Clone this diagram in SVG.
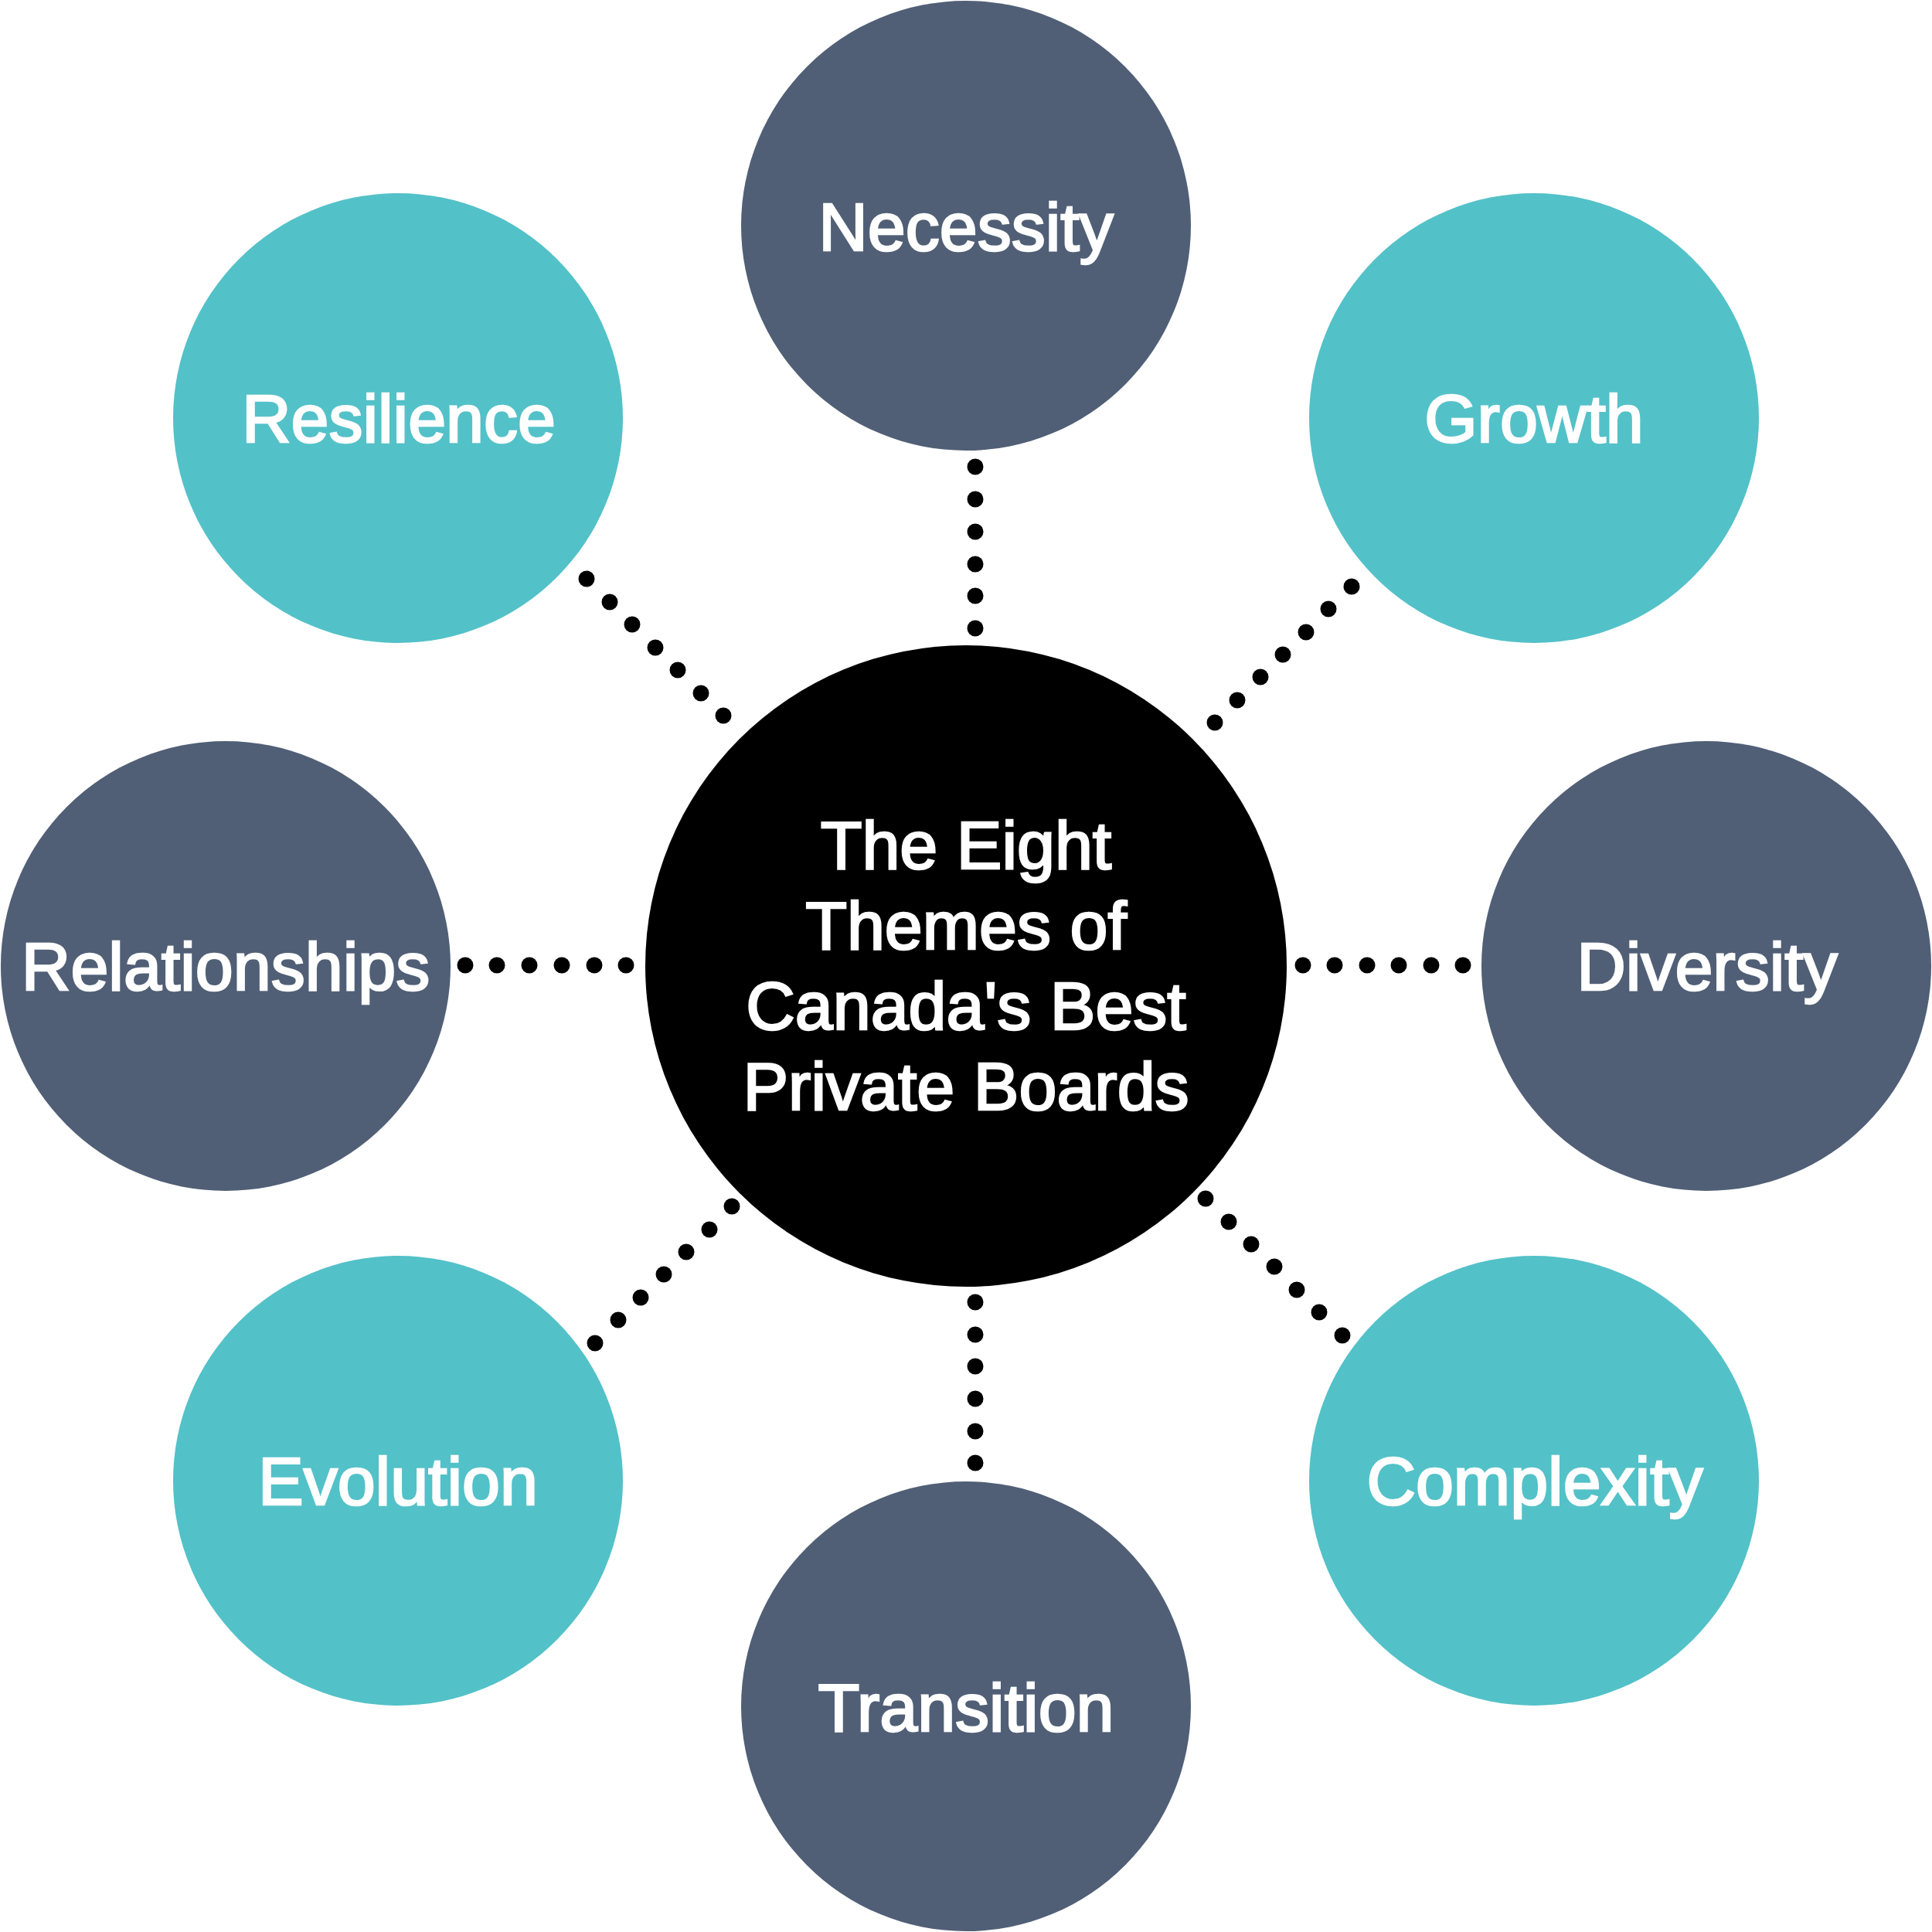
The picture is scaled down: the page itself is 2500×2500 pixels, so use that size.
<svg xmlns="http://www.w3.org/2000/svg" width="2500" height="2500" viewBox="0 0 2500 2500">
<style>
.slate{fill:#505F76}
.teal{fill:#53C1C8}
.hub{fill:#000}
.lbl{font-family:"Liberation Sans",Arial,Helvetica,sans-serif;font-size:88px;fill:#fff;stroke:#fff;stroke-width:2.6;text-anchor:middle}
.dot{fill:#000}
</style>
<rect width="2500" height="2500" fill="#fff"/>
<g id="connectors">
<g id="c-necessity"><circle class="dot" cx="1262" cy="604" r="10.5"/><circle class="dot" cx="1262" cy="646" r="10.5"/><circle class="dot" cx="1262" cy="688" r="10.5"/><circle class="dot" cx="1262" cy="730" r="10.5"/><circle class="dot" cx="1262" cy="771" r="10.5"/><circle class="dot" cx="1262" cy="813" r="10.5"/></g>
<g id="c-transition"><circle class="dot" cx="1262" cy="1685" r="10.5"/><circle class="dot" cx="1262" cy="1727" r="10.5"/><circle class="dot" cx="1262" cy="1768" r="10.5"/><circle class="dot" cx="1262" cy="1810" r="10.5"/><circle class="dot" cx="1262" cy="1852" r="10.5"/><circle class="dot" cx="1262" cy="1893" r="10.5"/></g>
<g id="c-relationships"><circle class="dot" cx="602" cy="1249" r="10.5"/><circle class="dot" cx="643" cy="1249" r="10.5"/><circle class="dot" cx="685" cy="1249" r="10.5"/><circle class="dot" cx="727" cy="1249" r="10.5"/><circle class="dot" cx="769" cy="1249" r="10.5"/><circle class="dot" cx="810" cy="1249" r="10.5"/></g>
<g id="c-diversity"><circle class="dot" cx="1686" cy="1249" r="10.5"/><circle class="dot" cx="1727" cy="1249" r="10.5"/><circle class="dot" cx="1769" cy="1249" r="10.5"/><circle class="dot" cx="1810" cy="1249" r="10.5"/><circle class="dot" cx="1852" cy="1249" r="10.5"/><circle class="dot" cx="1893" cy="1249" r="10.5"/></g>
<g id="c-resilience"><circle class="dot" cx="759" cy="749" r="10.5"/><circle class="dot" cx="789" cy="779" r="10.5"/><circle class="dot" cx="818" cy="808" r="10.5"/><circle class="dot" cx="848" cy="838" r="10.5"/><circle class="dot" cx="877" cy="867" r="10.5"/><circle class="dot" cx="907" cy="897" r="10.5"/><circle class="dot" cx="936" cy="926" r="10.5"/></g>
<g id="c-growth"><circle class="dot" cx="1749" cy="759" r="10.5"/><circle class="dot" cx="1719" cy="788" r="10.5"/><circle class="dot" cx="1690" cy="818" r="10.5"/><circle class="dot" cx="1660" cy="847" r="10.5"/><circle class="dot" cx="1631" cy="876" r="10.5"/><circle class="dot" cx="1601" cy="906" r="10.5"/><circle class="dot" cx="1572" cy="935" r="10.5"/></g>
<g id="c-evolution"><circle class="dot" cx="947" cy="1561" r="10.5"/><circle class="dot" cx="918" cy="1591" r="10.5"/><circle class="dot" cx="888" cy="1620" r="10.5"/><circle class="dot" cx="859" cy="1649" r="10.5"/><circle class="dot" cx="829" cy="1679" r="10.5"/><circle class="dot" cx="800" cy="1708" r="10.5"/><circle class="dot" cx="770" cy="1738" r="10.5"/></g>
<g id="c-complexity"><circle class="dot" cx="1560" cy="1551" r="10.5"/><circle class="dot" cx="1590" cy="1581" r="10.5"/><circle class="dot" cx="1619" cy="1610" r="10.5"/><circle class="dot" cx="1649" cy="1639" r="10.5"/><circle class="dot" cx="1678" cy="1669" r="10.5"/><circle class="dot" cx="1707" cy="1698" r="10.5"/><circle class="dot" cx="1737" cy="1728" r="10.5"/></g>
</g>
<g id="hub">
<circle class="hub" cx="1250" cy="1250" r="415"/>
<text class="lbl"><tspan x="1250" y="1124">The Eight</tspan><tspan x="1250" y="1228">Themes of</tspan><tspan x="1250" y="1332">Canada's Best</tspan><tspan x="1250" y="1436">Private Boards</tspan></text>
</g>
<g id="necessity"><circle class="slate" cx="1250" cy="292" r="291"/><text class="lbl" x="1250" y="324">Necessity</text></g>
<g id="transition"><circle class="slate" cx="1250" cy="2208" r="291"/><text class="lbl" x="1250" y="2240">Transition</text></g>
<g id="relationships"><circle class="slate" cx="292" cy="1250" r="291"/><text class="lbl" x="292" y="1281">Relationships</text></g>
<g id="diversity"><circle class="slate" cx="2208" cy="1250" r="291"/><text class="lbl" x="2209" y="1281">Diversity</text></g>
<g id="resilience"><circle class="teal" cx="515" cy="541" r="291"/><text class="lbl" x="516" y="572">Resilience</text></g>
<g id="growth"><circle class="teal" cx="1985" cy="541" r="291"/><text class="lbl" x="1985" y="572">Growth</text></g>
<g id="evolution"><circle class="teal" cx="515" cy="1916" r="291"/><text class="lbl" x="515" y="1947">Evolution</text></g>
<g id="complexity"><circle class="teal" cx="1985" cy="1916" r="291"/><text class="lbl" x="1986" y="1947">Complexity</text></g>
</svg>
